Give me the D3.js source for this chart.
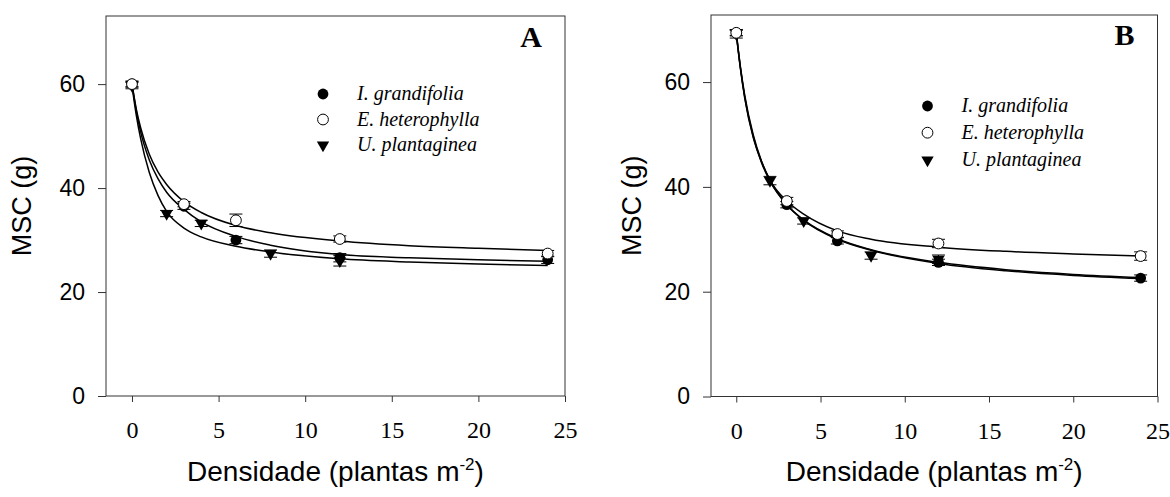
<!DOCTYPE html>
<html>
<head>
<meta charset="utf-8">
<script src="https://cdn.jsdelivr.net/npm/d3@7"></script>
<style>
  html, body { margin: 0; padding: 0; background: #fff; }
  svg { display: block; }
</style>
</head>
<body>
<svg id="chart" width="1170" height="497"></svg>
<script>
// ---------- DATA ----------
const xTicks = [0, 5, 10, 15, 20, 25];
const yTicks = [0, 20, 40, 60];
const speciesNames = ["I. grandifolia", "E. heterophylla", "U. plantaginea"];
const panelLabels = ["A", "B"];

const densityIG = [0, 3, 6, 12, 24];
const densityEH = [0, 3, 6, 12, 24];
const densityUP = [0, 2, 4, 8, 12];

// Panel A observed means and error
const igA = [60.0, 36.5, 30.0, 26.6, 26.2];
const igAerr = [0.6, 0.6, 0.7, 0.8, 0.7];
const ehA = [60.0, 36.9, 33.8, 30.2, 27.4];
const ehAerr = [0.5, 0.5, 1.2, 0.6, 0.6];
const upA = [59.7, 35.1, 33.2, 27.4, 26.0];
const upAerr = [0.6, 0.6, 0.6, 0.7, 1.0];

// Panel B observed means and error
const igB = [69.4, 36.6, 29.7, 25.6, 22.6];
const igBerr = [0.6, 0.6, 0.6, 0.6, 0.6];
const ehB = [69.4, 37.3, 31.0, 29.2, 26.8];
const ehBerr = [0.5, 0.7, 0.6, 0.8, 0.8];
const upB = [69.2, 41.2, 33.5, 26.9, 26.2];
const upBerr = [0.8, 0.8, 0.6, 0.7, 0.8];

// Fitted curves
const fitX = [0, 0.25, 0.5, 1, 1.5, 2, 3, 4, 6, 8, 12, 16, 20, 24];
const ehAfit = [60, 55.2, 51.6, 46.5, 43.1, 40.7, 37.4, 35.3, 32.8, 31.4, 29.8, 28.9, 28.4, 28.0];
const igAfit = [60, 54.8, 50.8, 45.4, 41.8, 39.2, 35.9, 33.5, 30.7, 29.0, 27.2, 26.6, 26.2, 25.9];
const upAfit = [59.7, 54.0, 49.5, 43.0, 38.6, 35.5, 32.3, 30.6, 28.8, 27.7, 26.4, 25.8, 25.4, 25.1];
const ehBfit = [69.4, 62.5, 57.0, 49.5, 44.8, 41.3, 37.3, 34.8, 31.6, 30.0, 28.5, 27.7, 27.2, 26.8];
const igBfit = [69.4, 62.8, 57.5, 50.0, 44.9, 41.3, 36.6, 33.6, 30.0, 27.9, 25.4, 24.0, 23.1, 22.5];
const upBfit = [69.2, 62.6, 57.2, 49.7, 44.6, 41.1, 36.6, 33.7, 30.1, 28.0, 25.6, 24.2, 23.3, 22.7];

// ---------- LAYOUT ----------
const SANS = '"Liberation Sans", Arial, sans-serif';
const SERIF = '"Liberation Serif", "Times New Roman", serif';
const AXIS_COLOR = "#333";

const panels = [
  { label: panelLabels[0], left: 106, right: 565, top: 16, bottom: 396, yMax: 73.1,
    labelX: 531, labelY: 46.5,
    yTitleX: 31, legendX: 323, legendY: [94, 119.5, 145],
    series: [
      { x: densityIG, y: igA, e: igAerr, fit: igAfit, shape: "filled" },
      { x: densityEH, y: ehA, e: ehAerr, fit: ehAfit, shape: "open" },
      { x: densityUP, y: upA, e: upAerr, fit: upAfit, shape: "tri" }
    ] },
  { label: panelLabels[1], left: 711, right: 1157.5, top: 15, bottom: 396.5, yMax: 72.8,
    labelX: 1124.5, labelY: 45,
    yTitleX: 641, legendX: 927.5, legendY: [106, 132.7, 160],
    series: [
      { x: densityIG, y: igB, e: igBerr, fit: igBfit, shape: "filled" },
      { x: densityEH, y: ehB, e: ehBerr, fit: ehBfit, shape: "open" },
      { x: densityUP, y: upB, e: upBerr, fit: upBfit, shape: "tri" }
    ] }
];

const svg = d3.select("#chart");
const triPath = d3.symbol().type(d3.symbolTriangle).size(66)();

function drawMarker(g, shape, cx, cy) {
  if (shape === "filled") {
    g.append("circle").attr("cx", cx).attr("cy", cy).attr("r", 5.4).attr("fill", "#000");
  } else if (shape === "open") {
    g.append("circle").attr("cx", cx).attr("cy", cy).attr("r", 5.4)
      .attr("fill", "#fff").attr("stroke", "#000").attr("stroke-width", 1);
  } else {
    g.append("path").attr("d", triPath)
      .attr("transform", `translate(${cx},${cy}) rotate(180)`).attr("fill", "#000");
  }
}

panels.forEach(p => {
  const x = d3.scaleLinear().domain([-1.5, 25]).range([p.left, p.right]);
  const y = d3.scaleLinear().domain([0, p.yMax]).range([p.bottom, p.top]);
  const g = svg.append("g");

  // frame
  g.append("rect").attr("x", p.left).attr("y", p.top)
    .attr("width", p.right - p.left).attr("height", p.bottom - p.top)
    .attr("fill", "none").attr("stroke", AXIS_COLOR).attr("stroke-width", 1);

  // y axis
  const ya = g.append("g").attr("transform", `translate(${p.left},0)`)
    .call(d3.axisLeft(y).tickValues(yTicks).tickSize(8).tickPadding(13).tickFormat(d3.format("d")));
  ya.select(".domain").remove();
  ya.selectAll("line").attr("stroke", AXIS_COLOR);
  ya.selectAll("text").style("font-family", SANS).style("font-size", "23px").attr("fill", "#000");

  // x axis
  const xa = g.append("g").attr("transform", `translate(0,${p.bottom})`)
    .call(d3.axisBottom(x).tickValues(xTicks).tickSize(6).tickPadding(19).tickFormat(d3.format("d")));
  xa.select(".domain").remove();
  xa.selectAll("line").attr("stroke", AXIS_COLOR);
  xa.selectAll("text").style("font-family", SERIF).style("font-size", "24px").attr("fill", "#000");

  // fitted curves
  const line = d3.line().x(d => x(d[0])).y(d => y(d[1])).curve(d3.curveMonotoneX);
  p.series.forEach(s => {
    g.append("path").datum(fitX.map((fx, i) => [fx, s.fit[i]]))
      .attr("d", line).attr("fill", "none").attr("stroke", "#000").attr("stroke-width", 1.5);
  });

  // error bars
  p.series.forEach(s => {
    s.x.forEach((xv, i) => {
      const cx = x(xv), y1 = y(s.y[i] + s.e[i]), y2 = y(s.y[i] - s.e[i]);
      g.append("line").attr("x1", cx).attr("x2", cx).attr("y1", y1).attr("y2", y2)
        .attr("stroke", "#000").attr("stroke-width", 1);
      [y1, y2].forEach(yy => g.append("line").attr("x1", cx - 6.5).attr("x2", cx + 6.5)
        .attr("y1", yy).attr("y2", yy).attr("stroke", "#000").attr("stroke-width", 1));
    });
  });

  // markers (triangles, filled, open)
  [2, 0, 1].forEach(k => {
    const s = p.series[k];
    s.x.forEach((xv, i) => drawMarker(g, s.shape, x(xv), y(s.y[i])));
  });

  // legend
  p.series.forEach((s, k) => {
    drawMarker(g, s.shape, p.legendX, p.legendY[k]);
    g.append("text").attr("x", p.legendX + 34).attr("y", p.legendY[k] + 6)
      .style("font-family", SERIF).style("font-style", "italic").style("font-size", "20px")
      .text(speciesNames[k]);
  });

  // panel letter
  g.append("text").attr("x", p.labelX).attr("y", p.labelY).attr("text-anchor", "middle")
    .style("font-family", SERIF).style("font-weight", "bold").style("font-size", "30px").text(p.label);

  // y title
  g.append("text").attr("transform", `translate(${p.yTitleX},${(p.top + p.bottom) / 2}) rotate(-90)`)
    .attr("text-anchor", "middle").style("font-family", SANS).style("font-size", "27px").text("MSC (g)");

  // x title
  const xt = g.append("text").attr("x", (p.left + p.right) / 2).attr("y", 481)
    .attr("text-anchor", "middle").style("font-family", SANS).style("font-size", "28px");
  xt.append("tspan").text("Densidade (plantas m");
  xt.append("tspan").attr("dy", -11).style("font-size", "17px").text("-2");
  xt.append("tspan").attr("dy", 11).text(")");
});
</script>
</body>
</html>
